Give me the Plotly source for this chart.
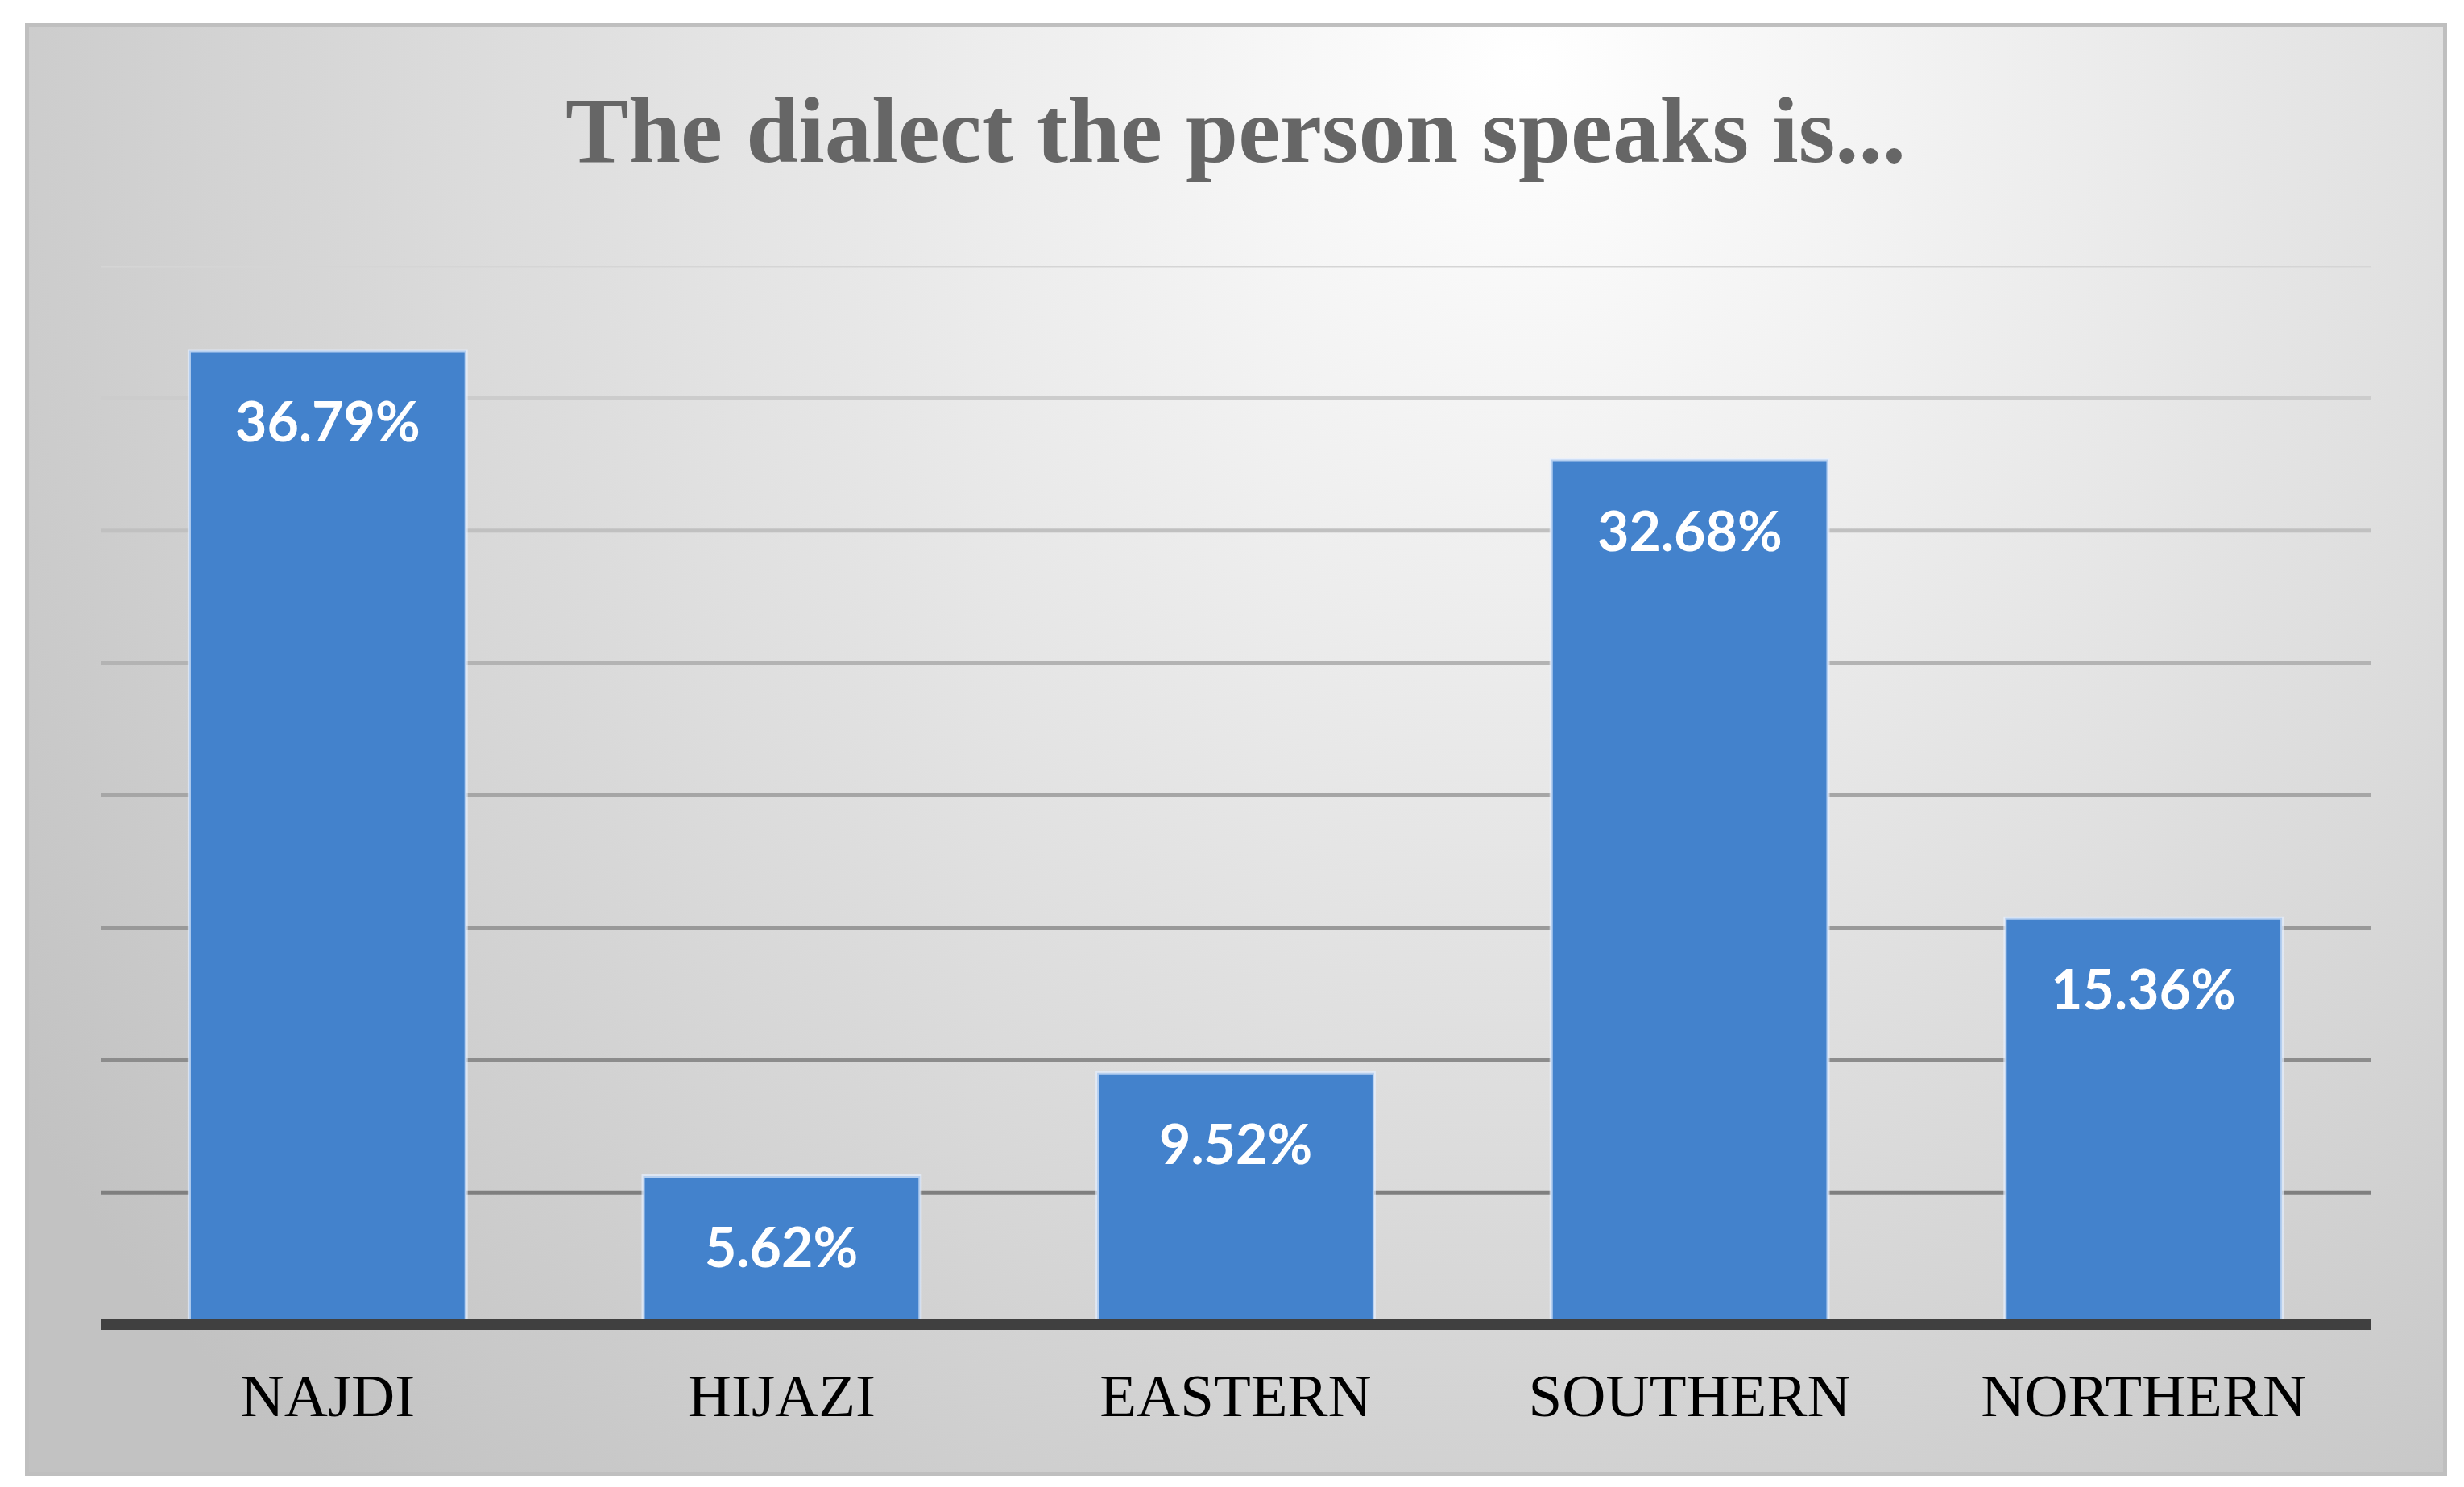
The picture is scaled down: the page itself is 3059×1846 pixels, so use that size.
import base64
import plotly.graph_objects as go

categories = ['NAJDI', 'HIJAZI', 'EASTERN', 'SOUTHERN', 'NORTHERN']
shares = [36.79, 5.62, 9.52, 32.68, 15.36]
share_labels = ['36.79%', '5.62%', '9.52%', '32.68%', '15.36%']
grid_vals = [5, 10, 15, 20, 25, 30, 35, 40]
grid_colors = ['#7f7f7f', '#8c8c8c', '#999999', '#a6a6a6',
               '#b3b3b3', '#c0c0c0', '#cccccc', '#d5d5d5']

W, H = 3040, 1830
ml, mr, mt, mb = 117, 105, 322, 200
pw, ph = W - ml - mr, H - mt - mb

# grey panel behind the chart (radial gradient + thin border) as an svg image
bx0, by0, bx1, by1 = 23, 20, 3030, 1824
bw, bh = bx1 - bx0, by1 - by0
svg = f'''<svg xmlns="http://www.w3.org/2000/svg" width="{bw}" height="{bh}" viewBox="0 0 {bw} {bh}" preserveAspectRatio="none">
<defs><radialGradient id="g" gradientUnits="userSpaceOnUse" cx="0" cy="0" r="1"
 gradientTransform="translate({bw*0.62:.0f},{bh*0.03:.0f}) scale({bw*0.75:.0f},{bh*1.3:.0f})">
<stop offset="0" stop-color="#ffffff"/><stop offset="1" stop-color="#c2c2c2"/>
</radialGradient></defs>
<rect x="2.5" y="2.5" width="{bw-5}" height="{bh-5}" fill="url(#g)" stroke="#bfbfbf" stroke-width="5"/>
</svg>'''
bg_src = 'data:image/svg+xml;base64,' + base64.b64encode(svg.encode()).decode()

fig = go.Figure(go.Bar(
    x=categories, y=shares,
    marker=dict(color='#4382cc', line=dict(color='rgba(230,240,255,0.7)', width=4)),
    hoverinfo='x+y',
))

for cat, val, lab in zip(categories, shares, share_labels):
    fig.add_annotation(x=cat, y=val, text=lab, showarrow=False, yanchor='top', yshift=-44,
                       font=dict(family='Lato', size=68, color='white', weight='bold'))

for val, col in zip(grid_vals, grid_colors):
    fig.add_shape(type='line', xref='paper', x0=0, x1=1, yref='y', y0=val, y1=val,
                  line=dict(color=col, width=5), layer='below')

fig.add_layout_image(source=bg_src, xref='paper', yref='paper',
                     x=(bx0 - ml) / pw, y=(H - mb - by0) / ph,
                     sizex=bw / pw, sizey=bh / ph,
                     xanchor='left', yanchor='top', sizing='stretch', layer='below')

fig.update_layout(
    width=W, height=H,
    margin=dict(l=ml, r=mr, t=mt, b=mb),
    paper_bgcolor='white',
    plot_bgcolor='rgba(0,0,0,0)',
    title=dict(text='The dialect the person speaks is...', x=0.5, xref='paper',
               y=0.917, yanchor='middle',
               font=dict(family='Liberation Serif', size=117, color='#666666', weight='bold')),
    bargap=0.39,
    showlegend=False,
    xaxis=dict(showline=True, linecolor='#404040', linewidth=13, showgrid=False,
               ticks='outside', ticklen=17, tickcolor='rgba(0,0,0,0)',
               tickfont=dict(family='Liberation Serif', size=75, color='black')),
    yaxis=dict(range=[0.2, 40], showgrid=False, zeroline=False, showticklabels=False),
)

fig.write_html('out.html')
